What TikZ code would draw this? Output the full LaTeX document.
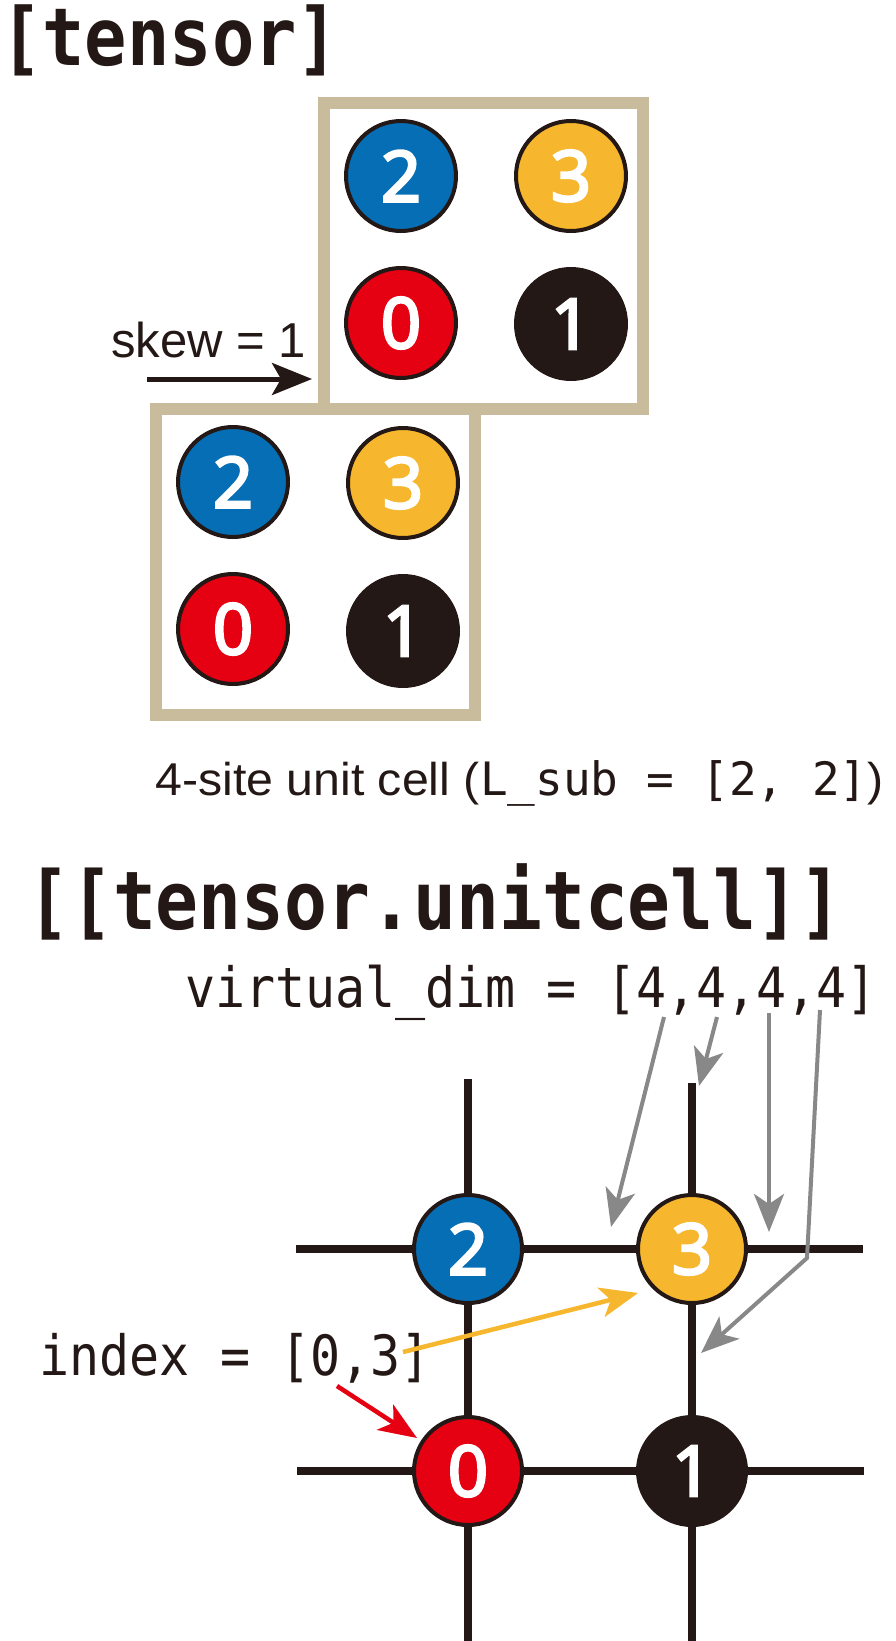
\documentclass[tikz,border=0pt]{standalone}
\usepackage{fontspec}
\usetikzlibrary{arrows.meta}
\newfontfamily\monoB[FakeStretch=0.88]{DejaVu Sans Mono}
\newfontfamily\monoC[FakeStretch=0.9]{DejaVu Sans Mono}
\newfontfamily\monoR{DejaVu Sans Mono}
\newfontfamily\sansA{Liberation Sans}
\newfontfamily\sansW[FakeStretch=1.05]{Liberation Sans}
\newfontfamily\digitF[FakeBold=4]{Open Sans}
\newcommand{\us}{\char"5F\relax}
\definecolor{inkK}{HTML}{231815}
\definecolor{tanC}{HTML}{C9BC9C}
\definecolor{blueC}{HTML}{066EB4}
\definecolor{yelC}{HTML}{F6B62D}
\definecolor{redC}{HTML}{E50012}
\definecolor{grayA}{HTML}{888888}
\tikzset{
  site/.style={circle, draw=inkK, line width=4pt, minimum size=110pt, inner sep=0pt,
    text=white, font=\digitF\fontsize{70}{70}\selectfont},
  gsite/.style={site, minimum size=108pt},
  cellbox/.style={draw=tanC, line width=12pt},
  gridline/.style={draw=inkK, line width=7.5pt},
  grayarrow/.style={draw=grayA, line width=4pt, -{Stealth[length=38pt,width=30pt,inset=10pt]}},
  colarrow/.style={line width=4.5pt, -{Stealth[length=38pt,width=30pt,inset=10pt]}},
  txt/.style={anchor=base west, inner sep=0pt, text=inkK}
}
\begin{document}
\begin{tikzpicture}[x=1pt,y=-1pt]
\useasboundingbox[fill=white] (0,0) rectangle (896,1641);

% headings
\node[txt, font=\monoB\bfseries\fontsize{80}{80}\selectfont] (h1) at (0,65) {[tensor]};
\node[txt, font=\monoB\bfseries\fontsize{81}{81}\selectfont] (h2) at (27,929) {[[tensor.unitcell]]};

% unit cell boxes
\draw[cellbox] (324,103) rectangle (643,409);
\draw[cellbox] (156,409) rectangle (475,715);

% upper box sites
\node[site, fill=blueC] (a2) at (401,176) {2};
\node[site, fill=yelC]  (a3) at (571,176) {3};
\node[site, fill=redC]  (a0) at (401,323) {0};
\node[site, fill=inkK]  (a1) at (571,324) {1};
% lower box sites
\node[site, fill=blueC] (b2) at (233,482) {2};
\node[site, fill=yelC]  (b3) at (403,483) {3};
\node[site, fill=redC]  (b0) at (233,629) {0};
\node[site, fill=inkK]  (b1) at (403,631) {1};

% skew
\node[txt, font=\sansA\fontsize{49}{49}\selectfont] (skew) at (111,357) {skew = 1};
\coordinate (skS) at (147,379);
\coordinate (skE) at (312,379);
\draw[inkK, line width=5pt, -{Stealth[length=40pt,width=32pt,inset=9pt]}] (skS) -- (skE);

% caption
\node[txt] (cap) at (155,795) {{\sansW\fontsize{46}{46}\selectfont 4-site unit cell (}{\monoR\fontsize{46}{46}\selectfont L\us sub = [2, 2]}{\sansW\fontsize{46}{46}\selectfont )}};

% virtual dim
\node[txt, font=\monoC\fontsize{55.5}{55.5}\selectfont] (vd) at (185,1007) {virtual\us dim = [4,4,4,4]};

% grid sites
\node[gsite, fill=blueC] (g2) at (468,1249) {2};
\node[gsite, fill=yelC]  (g3) at (692,1249) {3};
\node[gsite, fill=redC]  (g0) at (468,1471) {0};
\node[gsite, fill=inkK]  (g1) at (692,1471) {1};

% grid line ends
\coordinate (t2) at (468,1079);
\coordinate (t3) at (692,1083);
\coordinate (d0) at (468,1641);
\coordinate (d1) at (692,1641);
\coordinate (l2) at (296,1249);
\coordinate (r3) at (863,1249);
\coordinate (l0) at (297,1471);
\coordinate (r1) at (864,1471);
\draw[gridline] (t2) -- (g2) -- (g0) -- (d0);
\draw[gridline] (t3) -- (g3) -- (g1) -- (d1);
\draw[gridline] (l2) -- (g2) -- (g3) -- (r3);
\draw[gridline] (l0) -- (g0) -- (g1) -- (r1);

% gray arrows from virtual_dim
\coordinate (v1) at (664,1017); \coordinate (e1) at (611,1227);
\coordinate (v2) at (717,1017); \coordinate (e2) at (699,1086);
\coordinate (v3) at (769,1013); \coordinate (e3) at (769,1232);
\coordinate (v4) at (820,1010); \coordinate (k4) at (807,1258); \coordinate (e4) at (701,1353);
\draw[grayarrow] (v1) -- (e1);
\draw[grayarrow] (v2) -- (e2);
\draw[grayarrow] (v3) -- (e3);
\draw[grayarrow, line join=miter] (v4) -- (k4) -- (e4);

% index
\node[txt, font=\monoC\fontsize{55.5}{55.5}\selectfont] (idx) at (39.5,1375) {index = [0,3]};
\coordinate (y0) at (403,1352); \coordinate (y1) at (638,1293);
\coordinate (r0) at (337,1386); \coordinate (rr) at (417,1438);
\draw[colarrow, draw=yelC, fill=yelC] (y0) -- (y1);
\draw[colarrow, draw=redC, fill=redC] (r0) -- (rr);
\end{tikzpicture}
\end{document}
